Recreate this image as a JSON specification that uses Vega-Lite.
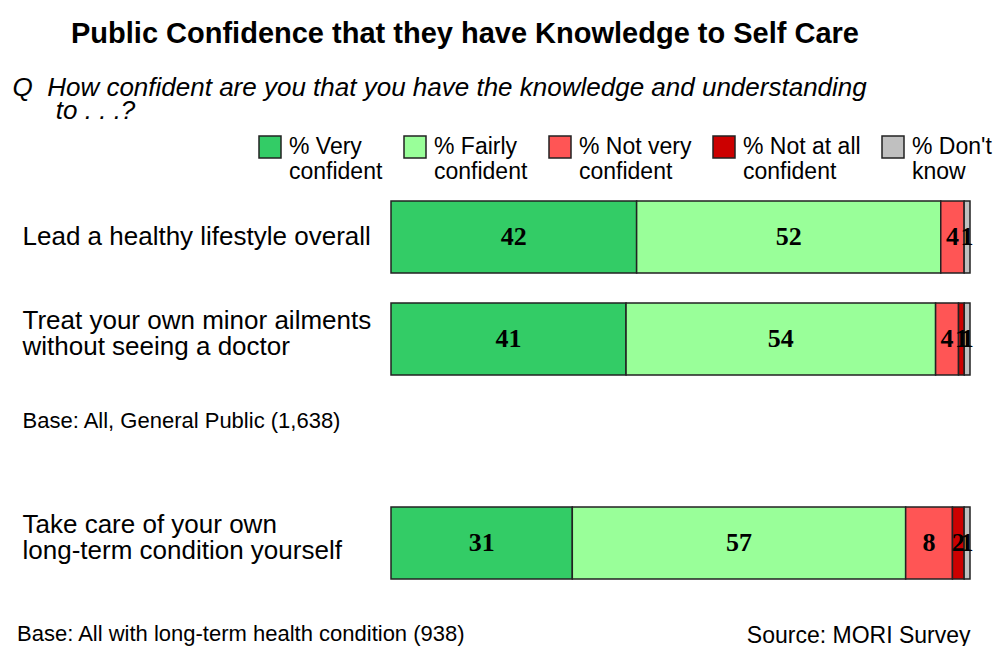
{
  "$schema": "https://vega.github.io/schema/vega-lite/v6.json",
  "background": "white",
  "padding": {"left": 12, "top": 20, "right": 4, "bottom": 4},
  "title": {
    "text": "Public Confidence that they have Knowledge to Self Care",
    "font": "Liberation Sans",
    "fontSize": 29,
    "fontWeight": "bold",
    "color": "#000",
    "anchor": "middle",
    "offset": 25,
    "dx": -37
  },
  "config": {
    "view": {"stroke": null},
    "font": "Liberation Sans",
    "axis": {"labelColor": "#000", "titleColor": "#000", "grid": false}
  },
  "vconcat": [
    {
      "width": 579,
      "height": 408,
      "title": {
        "text": "Base: All with long-term health condition (938)",
        "orient": "bottom",
        "anchor": "start",
        "frame": "bounds",
        "font": "Liberation Sans",
        "fontSize": 22,
        "fontWeight": "normal",
        "color": "#000",
        "offset": 0,
        "dx": 5,
        "dy": -23
      },
      "data": {
        "values": [
          {"item": "Lead a healthy lifestyle overall", "cat": "% Very confident", "k": 1, "value": 42},
          {"item": "Lead a healthy lifestyle overall", "cat": "% Fairly confident", "k": 2, "value": 52},
          {"item": "Lead a healthy lifestyle overall", "cat": "% Not very confident", "k": 3, "value": 4},
          {"item": "Lead a healthy lifestyle overall", "cat": "% Don't know", "k": 5, "value": 1},
          {"item": "Treat your own minor ailments without seeing a doctor", "cat": "% Very confident", "k": 1, "value": 41},
          {"item": "Treat your own minor ailments without seeing a doctor", "cat": "% Fairly confident", "k": 2, "value": 54},
          {"item": "Treat your own minor ailments without seeing a doctor", "cat": "% Not very confident", "k": 3, "value": 4},
          {"item": "Treat your own minor ailments without seeing a doctor", "cat": "% Not at all confident", "k": 4, "value": 1},
          {"item": "Treat your own minor ailments without seeing a doctor", "cat": "% Don't know", "k": 5, "value": 1},
          {"item": "Take care of your own long-term condition yourself", "cat": "% Very confident", "k": 1, "value": 31},
          {"item": "Take care of your own long-term condition yourself", "cat": "% Fairly confident", "k": 2, "value": 57},
          {"item": "Take care of your own long-term condition yourself", "cat": "% Not very confident", "k": 3, "value": 8},
          {"item": "Take care of your own long-term condition yourself", "cat": "% Not at all confident", "k": 4, "value": 2},
          {"item": "Take care of your own long-term condition yourself", "cat": "% Don't know", "k": 5, "value": 1}
        ]
      },
      "transform": [
        {"stack": "value", "groupby": ["item"], "sort": [{"field": "k", "order": "ascending"}], "offset": "normalize", "as": ["v0", "v1"]},
        {"calculate": "(datum.v0 + datum.v1) / 2", "as": "mid"}
      ],
      "encoding": {
        "y": {
          "field": "item",
          "type": "nominal",
          "scale": {
            "domain": [
              "Lead a healthy lifestyle overall",
              "Treat your own minor ailments without seeing a doctor",
              "Base: All, General Public (1,638)",
              "Take care of your own long-term condition yourself"
            ],
            "paddingInner": 0.294,
            "paddingOuter": 0.147
          },
          "axis": {
            "title": [
              "Q\u00a0\u00a0How confident are you that you have the knowledge and understanding",
              "\u200b\u00a0\u00a0\u00a0\u00a0\u00a0\u00a0to . . .?"
            ],
            "titleAngle": 0,
            "titleAlign": "left",
            "titleBaseline": "top",
            "titleX": -379,
            "titleY": -112,
            "titleFont": "Liberation Sans",
            "titleFontSize": 26,
            "titleFontStyle": "italic",
            "titleFontWeight": "normal",
            "titleLineHeight": 23,
            "domain": false,
            "ticks": false,
            "labelAlign": "left",
            "labelPadding": 369,
            "labelLimit": 500,
            "labelFont": "Liberation Sans",
            "labelFontSize": {"condition": {"test": "datum.value == 'Base: All, General Public (1,638)'", "value": 22}, "value": 26},
            "labelOffset": {
              "condition": [
                {"test": "datum.value == 'Base: All, General Public (1,638)'", "value": -20},
                {"test": "datum.value != 'Lead a healthy lifestyle overall'", "value": -18}
              ],
              "value": 0
            },
            "labelLineHeight": 26,
            "labelExpr": "datum.value == 'Treat your own minor ailments without seeing a doctor' ? ['Treat your own minor ailments', 'without seeing a doctor'] : datum.value == 'Take care of your own long-term condition yourself' ? ['Take care of your own', 'long-term condition yourself'] : datum.label"
          }
        }
      },
      "layer": [
        {
          "mark": {"type": "bar", "stroke": "#222", "strokeWidth": 1.5},
          "encoding": {
            "x": {
              "field": "v0",
              "type": "quantitative",
              "scale": {"domain": [0, 1], "nice": false},
              "axis": {
                "title": "Source: MORI Survey",
                "titleAnchor": "end",
                "titleFont": "Liberation Sans",
                "titleFontSize": 23,
                "titleFontWeight": "normal",
                "titlePadding": 30,
                "labels": false,
                "ticks": false,
                "domain": false
              }
            },
            "x2": {"field": "v1"},
            "color": {
              "field": "cat",
              "type": "nominal",
              "scale": {
                "domain": ["% Very confident", "% Fairly confident", "% Not very confident", "% Not at all confident", "% Don't know"],
                "range": ["#33CC66", "#99FF99", "#FF5555", "#CC0000", "#C0C0C0"]
              },
              "legend": {
                "orient": "none",
                "legendX": -133,
                "legendY": -51,
                "direction": "horizontal",
                "columns": 5,
                "title": null,
                "symbolType": "square",
                "symbolSize": 484,
                "symbolStrokeColor": "#222",
                "symbolStrokeWidth": 1.5,
                "symbolOpacity": 1,
                "labelFont": "Liberation Sans",
                "labelFontSize": 23,
                "labelColor": "#000",
                "labelOffset": 7,
                "labelLimit": 200,
                "columnPadding": 18,
                "labelExpr": "datum.label == \"% Don't know\" ? [\"% Don't\", \"know\"] : [replace(datum.label, \" confident\", \"\"), \"confident\"]"
              }
            }
          }
        },
        {
          "transform": [{"filter": "datum.value > 0"}],
          "mark": {"type": "text", "font": "Liberation Serif", "fontWeight": "bold", "fontSize": 26, "color": "#000"},
          "encoding": {
            "x": {"field": "mid", "type": "quantitative"},
            "text": {"field": "value", "type": "quantitative"}
          }
        }
      ]
    }
  ]
}
